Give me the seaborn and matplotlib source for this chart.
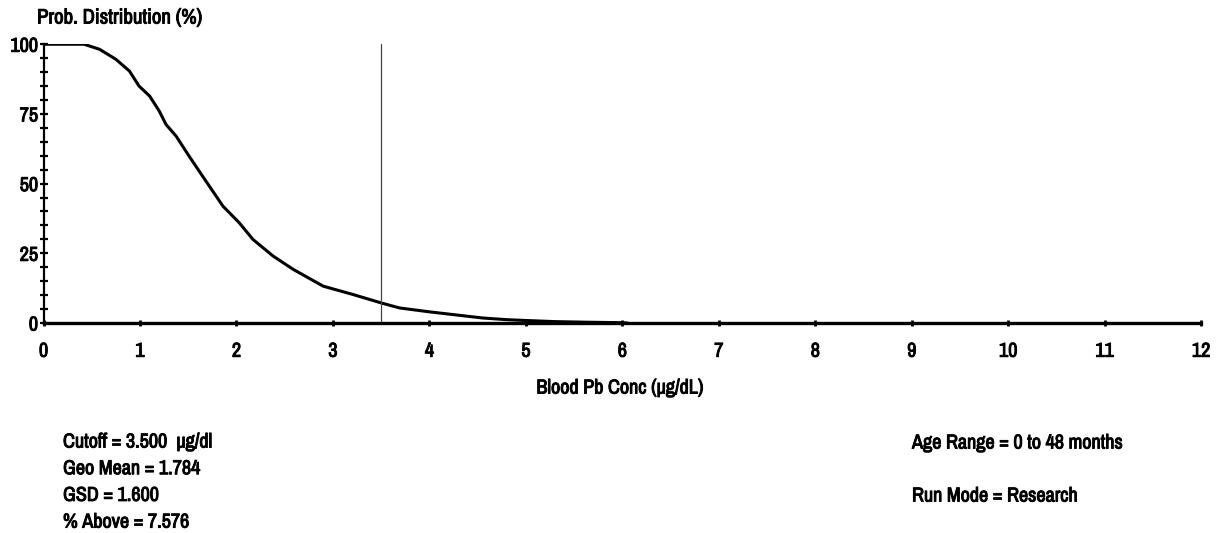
import numpy as np
import pandas as pd
import matplotlib
matplotlib.use("Agg")
import matplotlib.pyplot as plt
import matplotlib.patheffects as pe
from matplotlib.ticker import MultipleLocator
from matplotlib import font_manager
import seaborn as sns

# Percent of children above each blood lead concentration
conc_ugdl = [0.0, 0.42, 0.58, 0.75, 0.89, 0.99, 1.10, 1.20, 1.27, 1.375,
             1.51, 1.65, 1.86, 2.03, 2.17, 2.38, 2.59, 2.90, 3.21, 3.5,
             3.69, 4.0, 4.3, 4.55, 4.8, 5.0, 5.3, 5.6, 6.0, 6.05]
pct_above = [100, 100, 98.2, 94.6, 90.4, 85.0, 81.4, 76.0, 71.2, 67.0,
             59.8, 52.6, 41.9, 35.9, 30.0, 24.0, 19.2, 13.2, 10.2, 7.2,
             5.4, 4.0, 2.8, 1.8, 1.2, 0.9, 0.5, 0.3, 0.1, 0.0]
cutoff = 3.5
x_ticks = list(range(0, 13))
y_ticks = [0, 25, 50, 75, 100]

left_notes = ["Cutoff = 3.500  \u00b5g/dl", "Geo Mean = 1.784", "GSD = 1.600",
              "% Above = 7.576"]
right_notes = ["Age Range = 0 to 48 months", "Run Mode = Research"]

sns.set_style("white")
names = sorted({f.name for f in font_manager.fontManager.ttflist})
narrow = [n for n in names if "Narrow" in n or "Condensed" in n]
plt.rcParams["font.family"] = narrow[:1] + ["DejaVu Sans"]
plt.rcParams["font.stretch"] = "condensed"
plt.rcParams["font.weight"] = "bold"
plt.rcParams["text.color"] = "black"
plt.rcParams["xtick.color"] = "black"
plt.rcParams["ytick.color"] = "black"

FS = 14.5
heavy = [pe.withStroke(linewidth=0.7, foreground="black")]

fig = plt.figure(figsize=(12.16, 5.33), dpi=100)
ax = fig.add_axes([0.0358, 0.394, 0.952, 0.523])

df = pd.DataFrame({"conc": conc_ugdl, "pct": pct_above})
sns.lineplot(data=df, x="conc", y="pct", ax=ax, color="black", linewidth=2.2,
             estimator=None, sort=False)
ax.axvline(cutoff, ymin=0, ymax=1, color="#444444", linewidth=0.9)

ax.set_xlim(0, 12)
ax.set_ylim(0, 100)
ax.set_xticks(x_ticks)
ax.set_yticks(y_ticks)
ax.yaxis.set_minor_locator(MultipleLocator(5))
ax.set_xlabel("")
ax.set_ylabel("")

for side in ("top", "right"):
    ax.spines[side].set_visible(False)
ax.spines["left"].set_linewidth(1.6)
ax.spines["bottom"].set_linewidth(2.4)
ax.spines["left"].set_color("black")
ax.spines["bottom"].set_color("black")

ax.tick_params(axis="y", which="both", direction="inout", length=6, width=1.6,
               color="black", labelsize=FS, pad=1, left=True)
ax.tick_params(axis="x", which="major", direction="inout", length=5, width=2,
               color="black", labelsize=FS, pad=11, bottom=True)
for lbl in ax.get_xticklabels() + ax.get_yticklabels():
    lbl.set_path_effects(heavy)

fig.text(37 / 1216, 1 - 18 / 533, "Prob. Distribution (%)", fontsize=15,
         ha="left", va="center", path_effects=heavy)
fig.text(620 / 1216, 1 - 388 / 533, "Blood Pb Conc (\u00b5g/dL)", fontsize=FS,
         ha="center", va="center", path_effects=heavy)

for i, line in enumerate(left_notes):
    fig.text(63 / 1216, 1 - (442 + 26.7 * i) / 533, line, fontsize=FS,
             ha="left", va="center", path_effects=heavy)
for i, line in enumerate(right_notes):
    fig.text(912 / 1216, 1 - (443 + 53 * i) / 533, line, fontsize=FS,
             ha="left", va="center", path_effects=heavy)

fig.savefig("out.png", dpi=100, facecolor="white")
